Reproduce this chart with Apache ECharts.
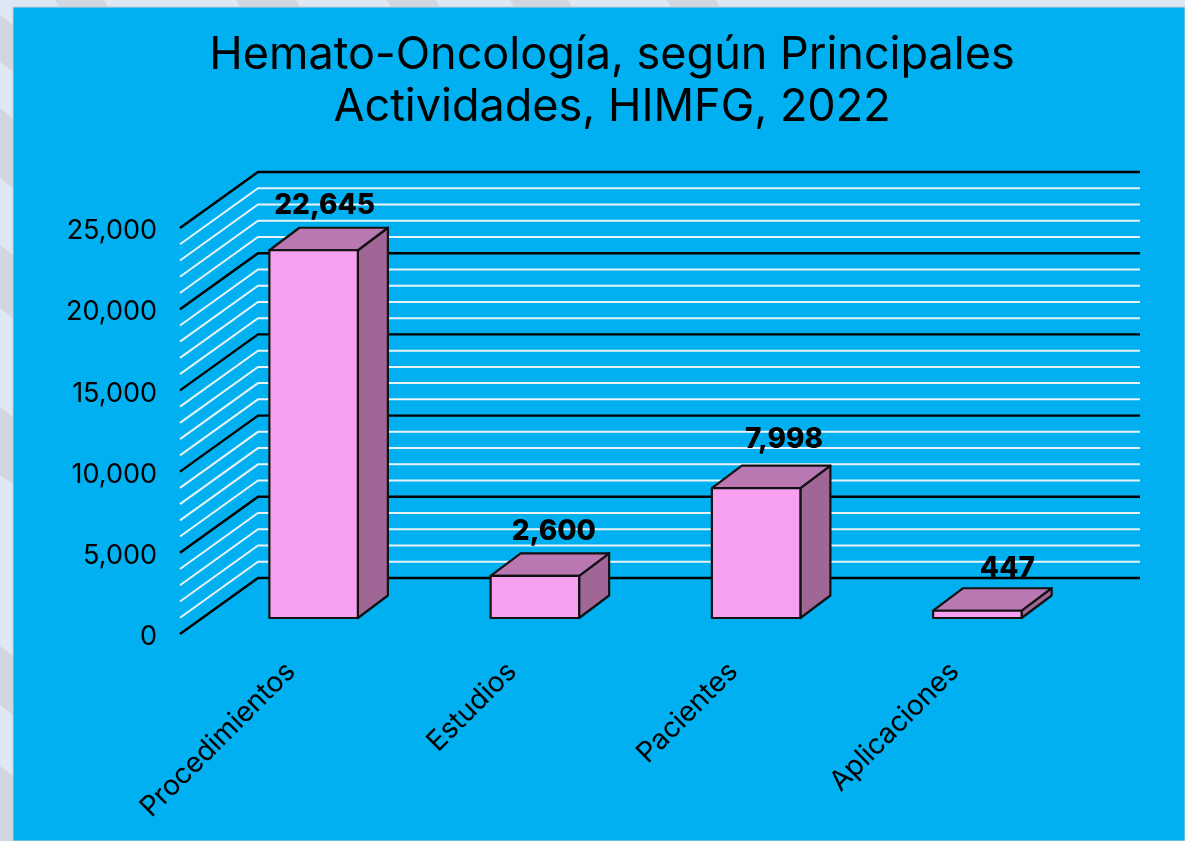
<!DOCTYPE html>
<html><head><meta charset="utf-8">
<style>html,body{margin:0;padding:0;background:#dde8f4}#c{width:1185px;height:841px}</style>
<script src="https://cdn.jsdelivr.net/npm/echarts@6/dist/echarts.min.js"></script>
</head><body><div id="c"></div>
<script>
const titleLines = ['Hemato-Oncología, según Principales', 'Actividades, HIMFG, 2022'];
const categories = ['Procedimientos', 'Estudios', 'Pacientes', 'Aplicaciones'];
const values = [22645, 2600, 7998, 447];
const majorTicks = [0, 5000, 10000, 15000, 20000, 25000];
const minorTicks = [1000, 2000, 3000, 4000, 6000, 7000, 8000, 9000, 11000, 12000, 13000, 14000, 16000, 17000, 18000, 19000, 21000, 22000, 23000, 24000];

const FONT = 'Inter';
const WALL = [78, -56];          // depth of the back wall
const WALL_TRIM = 3;
const BAR_SHIFT = [23, -16];     // bar position inside the depth
const BAR_DEPTH = [30, -22.5];
const BAR_RATIO = 0.4;
const LABEL_SHIFT = [[11, -45], [19, -44], [28, -49], [30, -42]];

function renderGrid(params, api) {
  const v = api.value(0);
  const y = api.coord([0, v])[1];
  const cs = params.coordSys;
  const major = majorTicks.includes(v);
  return {
    type: 'polyline',
    shape: { points: [[cs.x, y], [cs.x + WALL[0], y + WALL[1]], [cs.x + cs.width + WALL[0] - WALL_TRIM, y + WALL[1]]] },
    style: { fill: null, stroke: major ? '#000' : '#e9f4fa', lineWidth: major ? 2.4 : 2 }
  };
}

function renderBar(params, api) {
  const i = api.value(0), v = api.value(1);
  const top = api.coord([i, v]), base = api.coord([i, 0]);
  const w = api.size([1, 0])[0] * BAR_RATIO;
  const l = top[0] - w / 2 + BAR_SHIFT[0], r = l + w;
  const t = top[1] + BAR_SHIFT[1], b = base[1] + BAR_SHIFT[1];
  const dx = BAR_DEPTH[0], dy = BAR_DEPTH[1];
  const line = { stroke: '#111', lineWidth: 2.2, lineJoin: 'round' };
  const ls = LABEL_SHIFT[params.dataIndex];
  return {
    type: 'group',
    children: [
      { type: 'polygon', shape: { points: [[r, t], [r + dx, t + dy], [r + dx, b + dy], [r, b]] }, style: { fill: '#a06696', ...line } },
      { type: 'polygon', shape: { points: [[l, t], [l + dx, t + dy], [r + dx, t + dy], [r, t]] }, style: { fill: '#ba78b3', ...line } },
      { type: 'rect', shape: { x: l, y: t, width: w, height: b - t }, style: { fill: '#f6a0ef', ...line } },
      { type: 'text', z2: 10, style: { x: (l + r) / 2 + ls[0], y: t + ls[1], text: v.toLocaleString('en-US'),
          fill: '#000', font: '800 28px ' + FONT, textAlign: 'center', textVerticalAlign: 'middle' } }
    ]
  };
}

function stripe(pts) { return { type: 'polygon', silent: true, shape: { points: pts }, style: { fill: '#d2d6df' } }; }

const chart = echarts.init(document.getElementById('c'), null, { renderer: 'canvas' });
chart.setOption({
  animation: false,
  backgroundColor: '#dde8f4',
  title: {
    text: titleLines.join('\n'), left: 607, top: 24, textAlign: 'center',
    textStyle: { color: '#000', fontFamily: FONT, fontWeight: 400, fontSize: 45, lineHeight: 52 }
  },
  graphic: { elements: [
    stripe([[55,0],[104,0],[108,7],[59,7]]),
    stripe([[236,0],[296,0],[300,7],[240,7]]),
    stripe([[387,0],[436,0],[440,7],[391,7]]),
    stripe([[510,0],[568,0],[572,7],[514,7]]),
    stripe([[667,0],[716,0],[720,7],[671,7]]),
    stripe([[0,15],[13,25],[13,72],[0,62]]),
    stripe([[0,108],[13,118],[13,188],[0,178]]),
    stripe([[0,245],[13,255],[13,318],[0,308]]),
    stripe([[0,407],[13,417],[13,484],[0,475]]),
    stripe([[0,646],[13,656],[13,715],[0,705]]),
    stripe([[0,766],[13,776],[13,841],[0,841]]),
    { type: 'rect', silent: true, shape: { x: 13, y: 7, width: 1172, height: 834 },
      style: { fill: '#00b0f0', stroke: '#c9cdd0', lineWidth: 1 } }
  ] },
  grid: { left: 180, width: 885, top: 228, height: 406, containLabel: false },
  xAxis: {
    type: 'category', data: categories,
    axisLine: { show: false }, axisTick: { show: false }, splitLine: { show: false },
    axisLabel: { rotate: 45, margin: 33, interval: 0, color: '#000', fontFamily: FONT, fontSize: 28 }
  },
  yAxis: {
    type: 'value', min: 0, max: 25000, interval: 5000,
    axisLine: { show: false }, axisTick: { show: false }, splitLine: { show: false },
    axisLabel: { margin: 23, color: '#000', fontFamily: FONT, fontSize: 27, verticalAlign: 'top', lineHeight: 6,
      formatter: v => v.toLocaleString('en-US') }
  },
  series: [
    { type: 'custom', name: 'minor', clip: false, silent: true, z: 2, renderItem: renderGrid, data: minorTicks.map(v => [v]), encode: { y: 0 } },
    { type: 'custom', name: 'major', clip: false, silent: true, z: 3, renderItem: renderGrid, data: majorTicks.map(v => [v]), encode: { y: 0 } },
    { type: 'custom', name: 'bars', clip: false, z: 5, renderItem: renderBar, data: values.map((v, i) => [i, v]), encode: { x: 0, y: 1 } }
  ]
});
</script></body></html>
